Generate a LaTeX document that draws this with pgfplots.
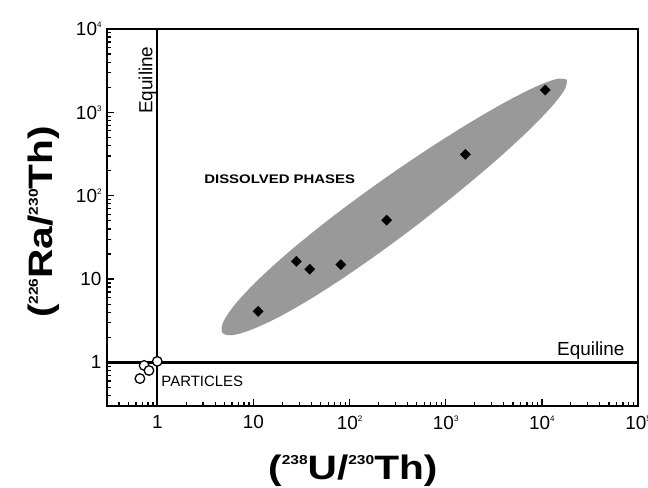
\documentclass[border=0pt]{standalone}
\usepackage{fontspec}
\setmainfont{Liberation Sans}
\usepackage{graphicx}
\usepackage{pgfplots}
\pgfplotsset{compat=1.18}

% small raised exponents for tick labels and axis labels
\newcommand\tsup[1]{\raisebox{8bp}{\fontsize{8}{8}\selectfont #1}}
\newcommand\lsup[1]{\raisebox{15bp}{\fontsize{13}{13}\selectfont\bfseries #1}}
\newcommand\lab[1]{\scalebox{1.2}[1]{\fontsize{34}{36}\selectfont\bfseries #1}}

\begin{document}
\begin{tikzpicture}
\begin{axis}[
    name=ax,
    scale only axis, width=531bp, height=377bp,
    xmode=log, ymode=log,
    xmin=0.3, xmax=1e5, ymin=0.3, ymax=1e4,
    axis line style={line width=2.4bp},
    tick pos=left, tick align=inside,
    major tick length=7bp, minor tick length=4bp,
    every tick/.style={black, line width=1.3bp},
    tick label style={font=\fontsize{19}{19}\selectfont},
    xticklabel style={yshift=-6bp},
    yticklabel style={xshift=-2bp},
    xticklabel={\pgfmathtruncatemacro\e{round(\tick/2.302585)}%
        \ifnum\e=0 1\else\ifnum\e=1 10\else 10\tsup{\e}\fi\fi},
    yticklabel={\pgfmathtruncatemacro\e{round(\tick/2.302585)}%
        \ifnum\e=0 1\else\ifnum\e=1 10\else 10\tsup{\e}\fi\fi},
    xlabel={\lab{(\lsup{238}U/\lsup{230}Th)}},
    ylabel={\lab{(\lsup{226}Ra/\lsup{230}Th)}},
    xlabel style={at={(axis description cs:0.463,-0.196)}, anchor=base},
    ylabel style={at={(axis description cs:-0.1017,0.488)}, anchor=base},
    clip=false,
]
% dissolved phases field (outline)
\addplot[fill=black!40, draw=none, smooth, tension=0.55] coordinates {
(18200,2460) (17330,1888) (12520,1156) (7060,586) (3210,255) (1245,102)
(440,39.6) (151,16.1) (54.2,7.28) (21.7,3.88) (10.3,2.56) (6.16,2.13)
(4.76,2.27) (4.87,3.08) (6.63,5.17) (11.7,10.3) (25.9,23.4) (67.8,57.0)
(197,141) (589,335) (1667,718) (4190,1331) (8750,2045) (14450,2523)
(18200,2460)
} -- cycle;
% dissolved samples
\addplot[only marks, mark=square*, mark size=3.6bp,
    mark options={rotate=45, fill=black, draw=black}] coordinates {
(11.2,4.1) (27.9,16.3) (38.6,13.1) (81,14.9) (243,50.8) (1604,313) (10850,1850)
};
% equilines
\addplot[black, line width=2.4bp] coordinates {(1,0.3) (1,1e4)};
\addplot[black, line width=2.4bp] coordinates {(0.3,1) (1e5,1)};
% particles
\addplot[only marks, mark=*, mark size=4.8bp,
    mark options={fill=white, draw=black, line width=1.3bp}] coordinates {
(0.66,0.64) (0.73,0.92) (0.82,0.80) (1,1.03)
};
\node[rotate=90, anchor=base east, font=\fontsize{19}{19}\selectfont]
    at (axis cs:0.887,6800) {Equiline};
\node[anchor=base east, font=\fontsize{19}{19}\selectfont]
    at (axis cs:78700,1.21) {Equiline};
\node[anchor=base west, inner sep=0pt]
    at (axis cs:3.07,141) {\scalebox{1.2}[1]{\fontsize{12.5}{12.5}\selectfont\bfseries DISSOLVED PHASES}};
\node[anchor=base west, inner sep=0pt, font=\fontsize{15}{15}\selectfont]
    at (axis cs:1.10,0.515) {PARTICLES};
\end{axis}
\pgfresetboundingbox
\path ([xshift=-107bp,yshift=-82bp]ax.south west) rectangle ([xshift=10bp,yshift=29bp]ax.north east);
\end{tikzpicture}
\end{document}
